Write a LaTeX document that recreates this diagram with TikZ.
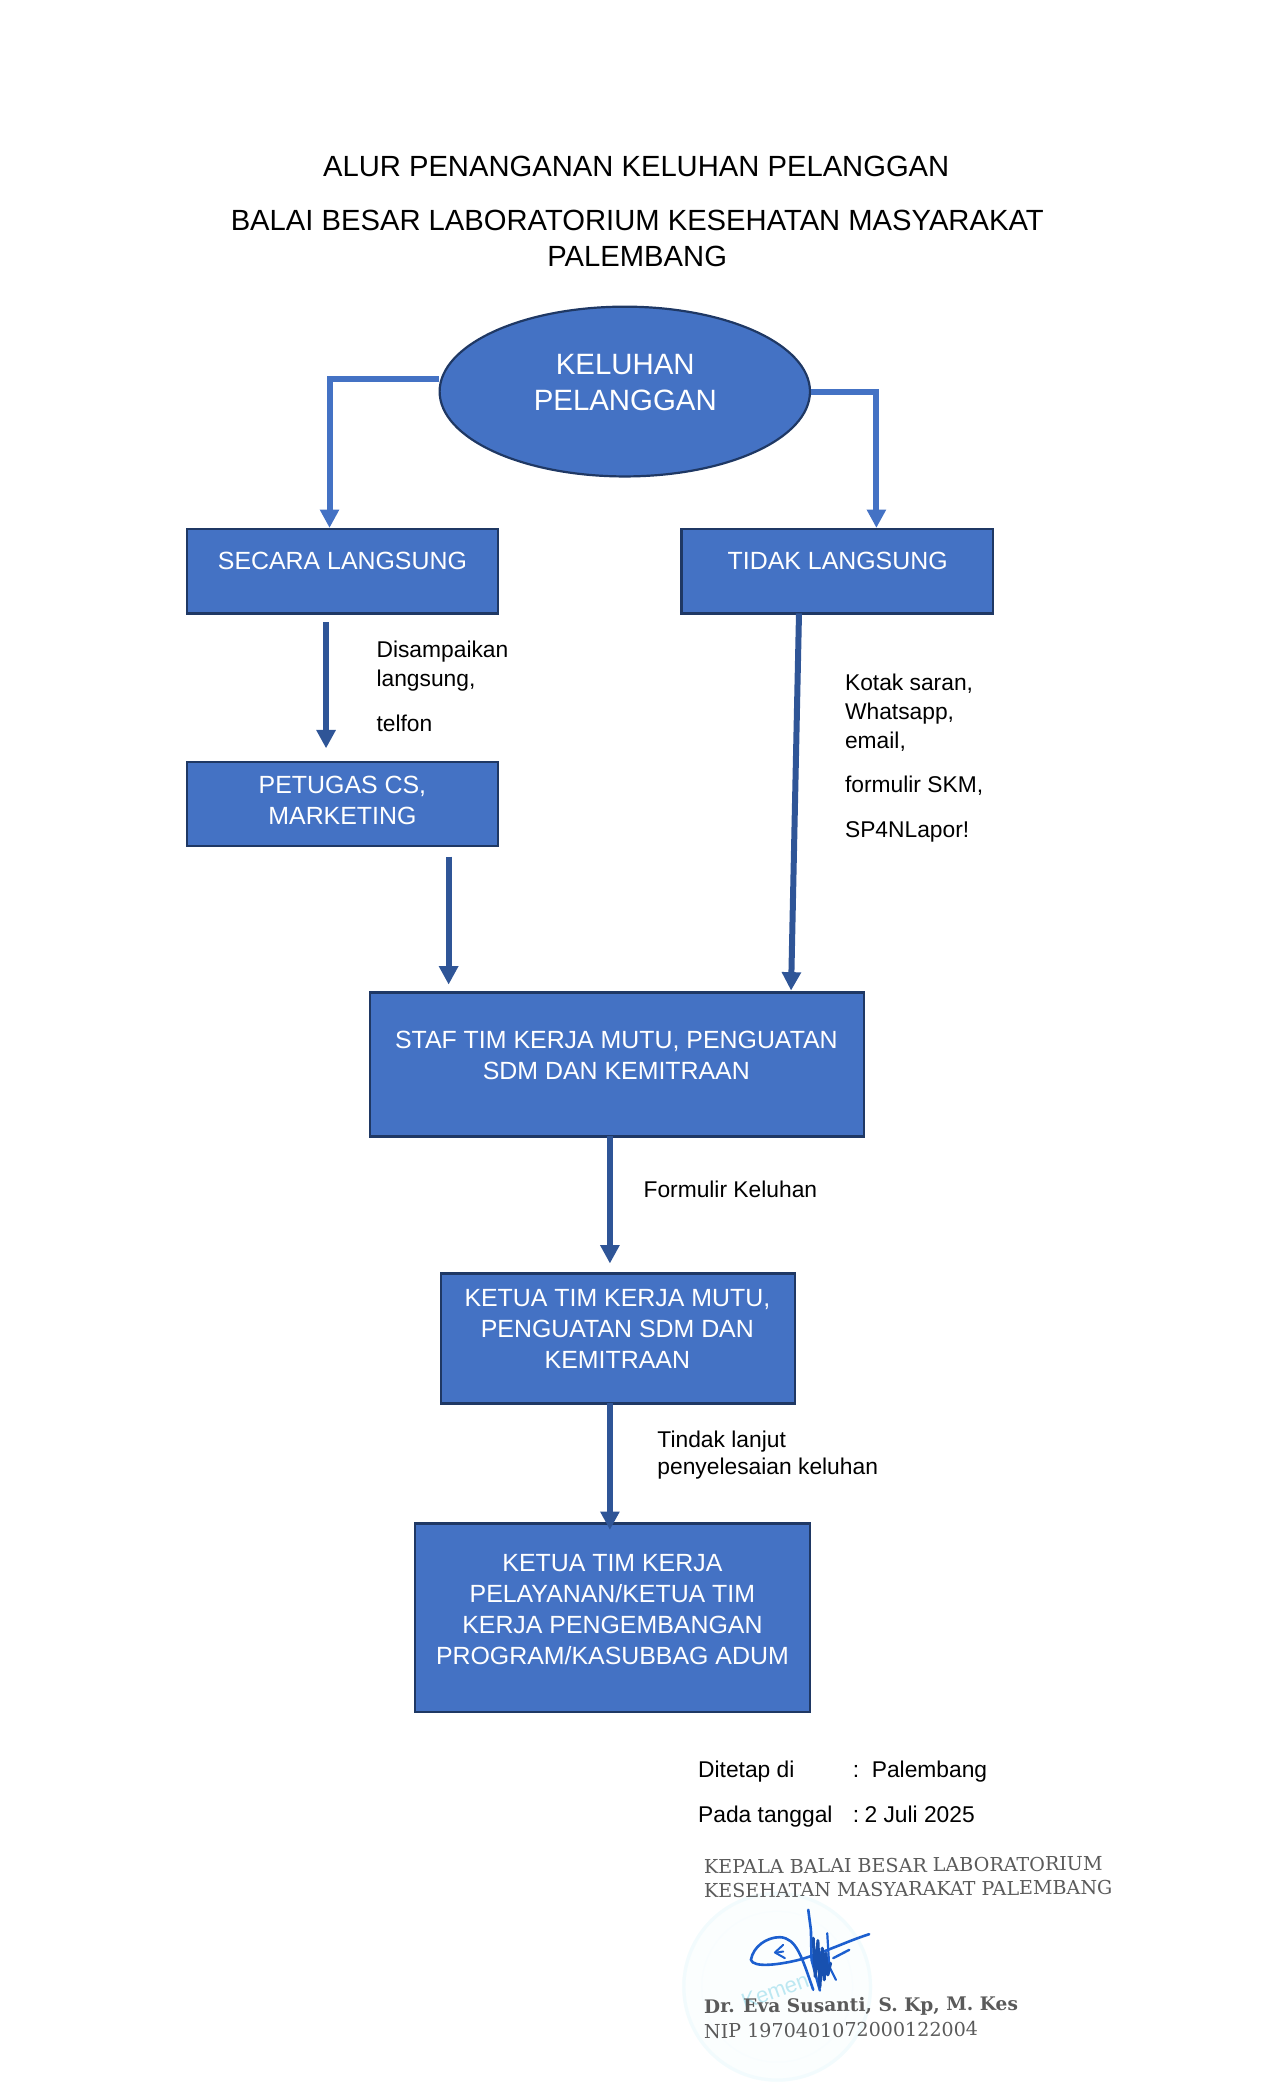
\documentclass[tikz,border=0pt]{standalone}
\usepackage{fontspec}
\setmainfont{Liberation Sans}
\newfontfamily\serifsig{DejaVu Serif}
\usetikzlibrary{arrows.meta,shapes.geometric,calc}
\definecolor{boxfill}{HTML}{4472C4}
\definecolor{boxedge}{HTML}{1F3864}
\definecolor{darkarrow}{HTML}{2F5597}
\definecolor{stampc}{HTML}{F2FBFD}
\definecolor{stampd}{HTML}{FBFEFE}
\definecolor{stamptext}{HTML}{BCE8F2}
\definecolor{sigblue}{HTML}{1C5FCF}
\definecolor{printgray}{HTML}{5A5A5A}
\tikzset{
  x=0.4963pt,y=-0.4963pt,
  flowbox/.style={draw=boxedge,fill=boxfill,line width=1.1pt,rectangle,inner sep=0pt},
  flowell/.style={draw=boxedge,fill=boxfill,line width=1.1pt,ellipse,inner sep=0pt},
  boxtext/.style={text=white,align=center,inner sep=0pt,font=\fontsize{12.45}{15.5}\selectfont},
  titletext/.style={text=black,align=center,inner sep=0pt,font=\fontsize{14.6}{18}\selectfont},
  labeltext/.style={text=black,align=left,anchor=west,inner sep=0pt,yshift=-1.65pt,text height=8pt,text depth=2.4pt,font=\fontsize{11.4}{14.4}\selectfont},
  lightarrow/.style={draw=boxfill,line width=3pt,-{Triangle[length=9.2pt,width=9.2pt]}},
  darkflow/.style={draw=darkarrow,line width=3pt,-{Triangle[length=9.2pt,width=9.2pt]}},
  printtext/.style={text=printgray,anchor=west,inner sep=0pt,font=\serifsig\fontsize{9.55}{11}\selectfont,rotate=0.5},
}
\begin{document}
\begin{tikzpicture}
\useasboundingbox (0,0) rectangle (1284.5,2115.8);
% stamp
\fill[stampd] (783,2001.7) circle[radius=96];
\draw[stampc,line width=1.6pt] (783,2001.7) circle[radius=94];
\draw[stampd!70!stampc,line width=0.5pt] (783,2001.7) circle[radius=76];
\node[text=stamptext,inner sep=0pt,rotate=20,font=\fontsize{11}{13}\selectfont] (stampword) at (781,2006) {Kemen};
% boxes
\node[flowell,minimum width=185.2pt,minimum height=84.9pt] (ell) at (629.5,394.5) {};
\node[flowbox,minimum width=155.8pt,minimum height=42.2pt] (sec) at (345,575.5) {};
\node[flowbox,minimum width=155.8pt,minimum height=42.2pt] (tid) at (843.5,575.5) {};
\node[flowbox,minimum width=155.8pt,minimum height=41.7pt] (pet) at (345,810) {};
\node[flowbox,minimum width=246.8pt,minimum height=72pt] (staf) at (621.7,1072.5) {};
\node[flowbox,minimum width=177.2pt,minimum height=65pt] (ka) at (622.5,1348.5) {};
\node[flowbox,minimum width=197.5pt,minimum height=94.3pt] (kb) at (617,1630) {};
% box texts
\node[boxtext,font=\fontsize{14.7}{18}\selectfont] (ellt) at (630,385) {KELUHAN\\PELANGGAN};
\node[boxtext] (sect) at (345,565) {SECARA LANGSUNG};
\node[boxtext] (tidt) at (844,565) {TIDAK LANGSUNG};
\node[boxtext] (pett) at (345,806) {PETUGAS CS,\\MARKETING};
\node[boxtext] (staft) at (621,1063) {STAF TIM KERJA MUTU, PENGUATAN\\SDM DAN KEMITRAAN};
\node[boxtext] (kat) at (622,1339) {KETUA TIM KERJA MUTU,\\PENGUATAN SDM DAN\\KEMITRAAN};
\node[boxtext] (kbt) at (617,1622) {KETUA TIM KERJA\\PELAYANAN/KETUA TIM\\KERJA PENGEMBANGAN\\PROGRAM/KASUBBAG ADUM};
% titles
\node[titletext] (t1) at (641,167.5) {ALUR PENANGANAN KELUHAN PELANGGAN};
\node[titletext] (t2) at (642,240) {BALAI BESAR LABORATORIUM KESEHATAN MASYARAKAT\\PALEMBANG};
% labels
\node[labeltext] (l1) at (379,653) {Disampaikan};
\node[labeltext] (l2) at (379,683) {langsung,};
\node[labeltext] (l3) at (379,728) {telfon};
\node[labeltext] (r1) at (851,687) {Kotak saran,};
\node[labeltext] (r2) at (851,716) {Whatsapp,};
\node[labeltext] (r3) at (851,745) {email,};
\node[labeltext] (r4) at (851,789) {formulir SKM,};
\node[labeltext] (r5) at (851,835) {SP4NLapor!};
\node[labeltext] (f1) at (648,1198) {Formulir Keluhan};
\node[labeltext] (g1) at (662,1449) {Tindak lanjut};
\node[labeltext] (g2) at (662,1477) {penyelesaian keluhan};
\node[labeltext] (d1) at (703,1782) {Ditetap di};
\node[labeltext] (d2) at (859,1782) {:};
\node[labeltext] (d3) at (878,1782) {Palembang};
\node[labeltext] (p1) at (703,1827) {Pada tanggal};
\node[labeltext] (p2) at (859,1827) {:\hspace{2.6pt}2 Juli 2025};
% connectors
\draw[lightarrow] ([yshift=6.25pt]ell.west) -| ([xshift=-6.45pt]sec.north);
\draw[lightarrow] (ell.east) -| ([xshift=19.6pt]tid.north);
\coordinate (a1) at (328.5,627); \coordinate (a2) at (328.5,754);
\draw[darkflow] (a1) -- (a2);
\coordinate (b1) at (452,863); \coordinate (b2) at (452,992);
\draw[darkflow] (b1) -- (b2);
\coordinate (c1) at (805,618); \coordinate (c2) at (797,998);
\draw[darkflow] (c1) -- (c2);
\coordinate (e0) at (614.5,1145); \coordinate (e1) at (614.5,1273);
\draw[darkflow] (e0) -- (e1);
\coordinate (g0) at (614.5,1414); \coordinate (g9) at (614.5,1541.4);
\draw[darkflow] (g0) -- (g9);
% printed signature block
\node[printtext] (k1) at (709,1881) {KEPALA BALAI BESAR LABORATORIUM};
\node[printtext] (k2) at (709,1905) {KESEHATAN MASYARAKAT PALEMBANG};
\node[printtext,font=\serifsig\bfseries\fontsize{9.3}{10}\selectfont] (k3) at (709,2023) {Dr. Eva Susanti, S. Kp, M. Kes};
\node[printtext] (k4) at (709,2046.5) {NIP 1970401072000122004};
% signature
\begin{scope}[shift={(735.4,1914.1)},x=0.16667pt,y=-0.16667pt]
\draw[sigblue,line width=1.3pt,line cap=round,line join=round]
  (418,103) .. controls (350,125) and (290,155) .. (215,178)
  .. controls (150,195) and (70,205) .. (63,180)
  .. controls (70,140) and (110,112) .. (150,112)
  .. controls (200,115) and (215,170) .. (250,270);
\draw[sigblue,line width=1.3pt,line cap=round,line join=round] (235,30) -- (243,90) -- (245,180) -- (270,272);
\draw[sigblue,line width=1.1pt,line join=round,line cap=round]
  (292,100) -- (298,200) -- (318,240);
\draw[sigblue!85!black,line width=1.5pt,line join=round,line cap=round]
  (250,115) -- (256,230) -- (264,122) -- (270,262) -- (277,145) -- (283,240) -- (288,160) -- (294,225) -- (302,190);
\draw[sigblue,line width=1.2pt,line cap=round] (310,175) -- (358,150);
\draw[sigblue,line width=1pt,line cap=round,line join=round] (160,135) -- (135,158) -- (165,175);
\draw[sigblue,line width=1pt,line cap=round] (142,158) -- (160,155);
\end{scope}
\end{tikzpicture}
\end{document}
